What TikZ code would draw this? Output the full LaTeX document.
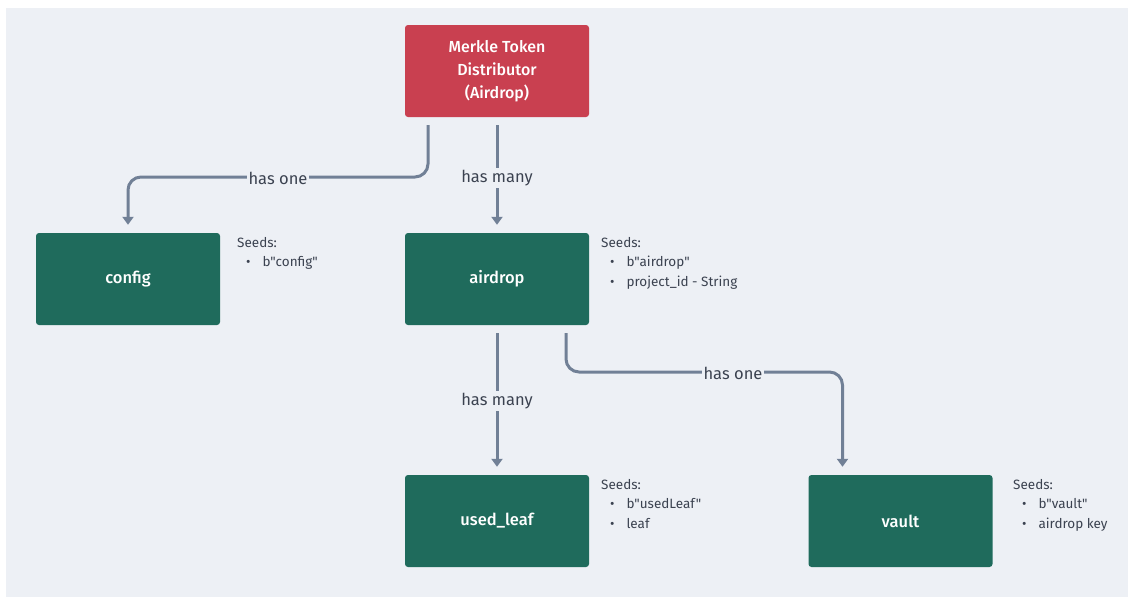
\documentclass[tikz,border=0pt]{standalone}
\usepackage{fontspec}
\setmainfont{Fira Sans}[Ligatures=TeXOff, BoldFont={* Medium}]
\usetikzlibrary{arrows.meta,calc}
\definecolor{bg}{HTML}{EDF0F5}
\definecolor{redbox}{HTML}{C94050}
\definecolor{greenbox}{HTML}{1F6B5C}
\definecolor{edgec}{HTML}{718096}
\definecolor{txt}{HTML}{3B4250}
\begin{document}
\begin{tikzpicture}[x=1pt,y=-1pt,
  entity/.style={fill=greenbox, rounded corners=3pt, minimum width=184pt, minimum height=92pt,
    text=white, font=\fontsize{16.5}{19}\selectfont\bfseries, inner sep=0pt},
  rootbox/.style={entity, fill=redbox, align=center, font=\fontsize{16}{23}\selectfont\bfseries},
  conn/.style={draw=edgec, line width=3pt, rounded corners=13pt, -{Triangle[width=11pt,length=8pt]}},
  elabel/.style={fill=bg, text=txt, font=\fontsize{16.5}{18}\selectfont, inner sep=2pt},
  seeds/.style={anchor=north west, text=txt, align=left, inner sep=0pt,
    font=\fontsize{13.5}{19.5}\selectfont}
]
\useasboundingbox (0,0) rectangle (1128,600);
\fill[white] (0,0) rectangle (1128,600);
\fill[bg] (6,8) rectangle (1128,597);

\node[rootbox] (merkle) at (497,71) {Merkle Token\\Distributor\\(Airdrop)};
\node[entity] (config) at (128,279) {config};
\node[entity] (airdrop) at (497,279) {airdrop};
\node[entity] (usedleaf) at (497,521) {used\_leaf};
\node[entity] (vault) at (900.5,521) {vault};

\coordinate (row1) at (0,177);
\coordinate (row2) at (0,372);

\draw[conn] ([shift={(-69,8)}]merkle.south) -- ([shift={(-69,0)}]merkle.south |- row1) -| ([yshift=8pt]config.north);
\draw[conn] ([yshift=-8pt]merkle.south) -- ([yshift=8pt]airdrop.north);
\draw[conn] ([yshift=-8pt]airdrop.south) -- ([yshift=8pt]usedleaf.north);
\draw[conn] ([shift={(69,8)}]airdrop.south) -- ([shift={(69,0)}]airdrop.south |- row2) -| ([shift={(-58,-8)}]vault.north);

\node[elabel] (l1) at (278,178) {has one};
\node[elabel] (l2) at (497,178) {has many};
\node[elabel] (l3) at (497,401) {has many};
\node[elabel] (l4) at (733,373) {has one};

\node[seeds] (s1) at (237,237) {Seeds:\\\hspace*{9pt}•\hspace{12pt}b"config"};
\node[seeds] (s2) at (601,237) {Seeds:\\\hspace*{9pt}•\hspace{12pt}b"airdrop"\\\hspace*{9pt}•\hspace{12pt}project\_id - String};
\node[seeds] (s3) at (601,479) {Seeds:\\\hspace*{9pt}•\hspace{12pt}b"usedLeaf"\\\hspace*{9pt}•\hspace{12pt}leaf};
\node[seeds] (s4) at (1013,479) {Seeds:\\\hspace*{9pt}•\hspace{12pt}b"vault"\\\hspace*{9pt}•\hspace{12pt}airdrop key};
\end{tikzpicture}
\end{document}
